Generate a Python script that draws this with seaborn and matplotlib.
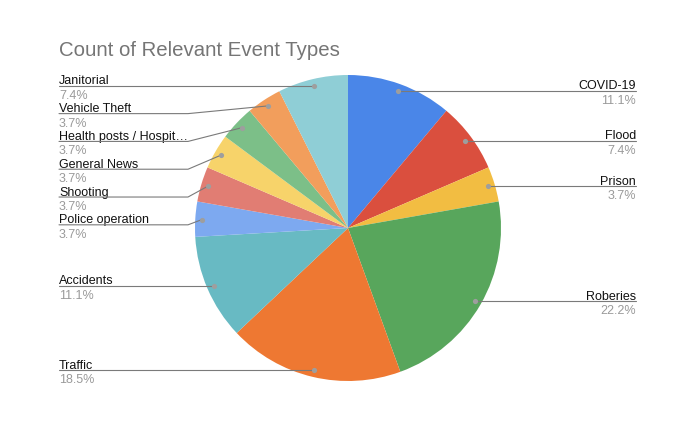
import numpy as np
import matplotlib
matplotlib.use("Agg")
import matplotlib.pyplot as plt
import seaborn as sns

# ─────────────────────────────────────────────────────────────
# DATA
# ─────────────────────────────────────────────────────────────
categories = ["COVID-19", "Flood", "Prison", "Roberies", "Traffic", "Accidents",
              "Police operation", "Shooting", "General News",
              "Health posts / Hospit…", "Vehicle Theft", "Janitorial"]
counts = [3, 2, 1, 6, 5, 3, 1, 1, 1, 1, 1, 2]

slice_colours = ["#4A86E8", "#DA4F3E", "#F2BD42", "#58A65C", "#EE7832", "#68BAC3",
                 "#7DA9F0", "#E17D73", "#F7D36A", "#7CBF88", "#F29E5C", "#8FCED6"]

TITLE = "Count of Relevant Event Types"

# ─────────────────────────────────────────────────────────────
# LAYOUT (pixels, figure is 695 x 427)
# ─────────────────────────────────────────────────────────────
W, H = 695, 427
CX, CY = 348, H - 229
RADIUS = 153
DOT_R = 0.955 * RADIUS
LEFT_X, RIGHT_X = 59, 636
LEFT_ELBOW, RIGHT_ELBOW = 188, 508
LABEL_GAP = 27.8
LINE_COL = "#7a7a7a"

sns.set_theme(style="white")
plt.rcParams["font.family"] = ["Liberation Sans", "DejaVu Sans"]

fig = plt.figure(figsize=(W / 100, H / 100), dpi=100)
ax = fig.add_axes([0, 0, 1, 1])

palette = sns.color_palette(slice_colours)
ax.pie(counts, colors=palette, startangle=90, counterclock=False,
       center=(CX, CY), radius=RADIUS, wedgeprops=dict(linewidth=0))

ax.set_xlim(0, W)
ax.set_ylim(0, H)
ax.set_aspect("equal")
ax.axis("off")

# dot positions at the middle of each slice
total = sum(counts)
cum = np.cumsum([0] + counts)
mid = (cum[:-1] + np.array(counts) / 2) / total * 2 * np.pi   # clockwise from top
dot_x = CX + DOT_R * np.sin(mid)
dot_y = CY + DOT_R * np.cos(mid)
sns.scatterplot(x=dot_x, y=dot_y, color="#9e9e9e", s=14, linewidth=0, ax=ax,
                zorder=5, legend=False)

# label placement: stack top-down per side with a minimum gap
right_idx = [i for i in range(len(counts)) if dot_x[i] >= CX]
left_idx = [i for i in range(len(counts)) if dot_x[i] < CX]
label_y = {}
for side in (right_idx, left_idx):
    prev = None
    for i in sorted(side, key=lambda k: -dot_y[k]):
        y = dot_y[i]
        if prev is not None and prev - y < LABEL_GAP:
            y = prev - LABEL_GAP
        label_y[i] = y
        prev = y

for i in range(len(counts)):
    ly = label_y[i]
    pct = f"{counts[i] / total * 100:.1f}%"
    if i in right_idx:
        ax.plot([dot_x[i], RIGHT_ELBOW, RIGHT_X], [dot_y[i], ly, ly],
                color=LINE_COL, lw=0.8, zorder=4)
        tx, ha = RIGHT_X, "right"
    else:
        ax.plot([dot_x[i], LEFT_ELBOW, LEFT_X], [dot_y[i], ly, ly],
                color=LINE_COL, lw=0.8, zorder=4)
        tx, ha = LEFT_X, "left"
    ax.text(tx, ly + 2.5, categories[i], ha=ha, va="baseline",
            fontsize=9, color="#111111")
    ax.text(tx, ly - 3, pct, ha=ha, va="top", fontsize=9, color="#9a9a9a")

ax.text(LEFT_X, H - 50, TITLE, ha="left", va="center", fontsize=14.7,
        color="#757575")

fig.savefig("out.png", dpi=100)
